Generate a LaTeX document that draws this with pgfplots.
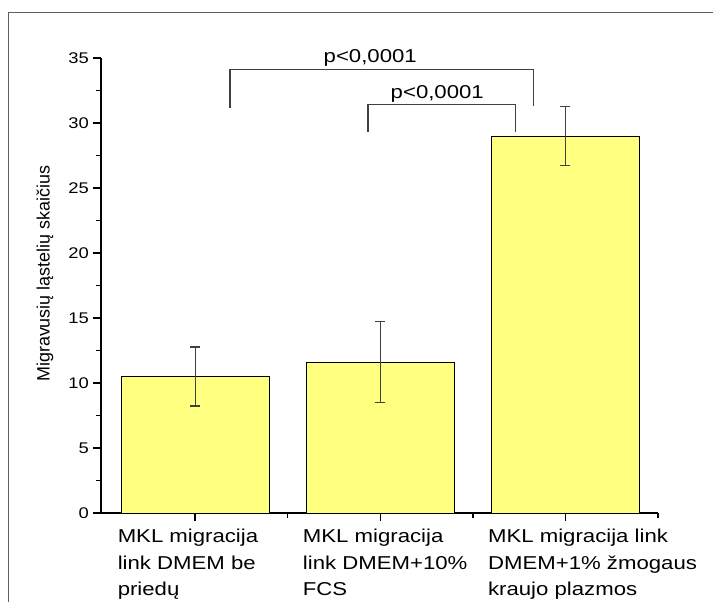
\documentclass[border=0pt]{standalone}
\usepackage{fontspec}
\setmainfont[FakeStretch=1.19]{Liberation Sans}
\newfontfamily\ylabfont{Liberation Sans}
\usepackage{pgfplots}
\pgfplotsset{compat=1.18}

\definecolor{barfill}{HTML}{FFFF80}
\definecolor{framegray}{HTML}{606060}

\begin{document}
\begin{tikzpicture}[x=1bp,y=1bp]
\useasboundingbox (0bp,0bp) rectangle (713bp,602bp);
% outer frame (top and left edges)
\draw[framegray, line width=1bp] (8bp,0bp) -- (8bp,589bp) -- (713bp,589bp);

\begin{axis}[
  at={(101bp,89bp)}, anchor=south west,
  width=557bp, height=455bp, scale only axis,
  xmin=-0.508, xmax=2.5,
  ymin=0, ymax=35,
  axis x line*=bottom, axis y line*=left,
  axis line style={line width=1.6bp, black, -},
  tick align=outside,
  major tick length=8bp, minor tick length=5bp,
  every tick/.style={line width=1.4bp, black},
  xtick={0,1,2},
  minor xtick={0.5,1.5,2.5},
  ytick={0,5,...,35},
  minor ytick={2.5,7.5,...,32.5},
  /pgf/number format/assume math mode=true,
  yticklabel style={font=\fontsize{15.5}{18}\selectfont, inner sep=0pt, xshift=-4bp},
  xticklabels={{MKL migracija\\link DMEM be\\priedų},
               {MKL migracija\\link DMEM+10\%\\FCS},
               {MKL migracija link\\DMEM+1\% žmogaus\\kraujo plazmos}},
  xticklabel style={font=\fontsize{18.7}{26.7}\selectfont, align=left,
    anchor=north west, inner sep=0pt, xshift=-77.5bp, yshift=-8bp},
  ylabel={\ylabfont\fontsize{18}{21}\selectfont Migravusių ląstelių skaičius},
  ylabel style={at={(axis description cs:-0.1005,0.526)}, anchor=center},
  clip=false,
]
\addplot[ybar, bar width=0.8, fill=barfill, draw=black, line width=0.8bp,
  error bars/.cd, y dir=both, y explicit,
  error bar style={line width=1.1bp, black!75},
  error mark options={rotate=90, mark size=5bp, line width=1.1bp, black!75}]
  coordinates {
    (0,10.5)  +- (0,2.27)
    (1,11.6)  +- (0,3.1)
    (2,29.0)  +- (0,2.3)
  };

% significance brackets
\draw[black!75, line width=1.2bp]
  (axis cs:0.189,31.18) -- (axis cs:0.189,34.1) -- (axis cs:1.827,34.1) -- (axis cs:1.827,31.33);
\draw[black!75, line width=1.2bp]
  (axis cs:0.934,29.33) -- (axis cs:0.934,31.44) -- (axis cs:1.730,31.44) -- (axis cs:1.730,29.31);
\node[anchor=base, inner sep=0pt, font=\fontsize{18.7}{22}\selectfont] at (axis cs:0.946,34.69) {p<0,0001};
\node[anchor=base, inner sep=0pt, font=\fontsize{18.7}{22}\selectfont] at (axis cs:1.308,31.92) {p<0,0001};
\end{axis}
\end{tikzpicture}
\end{document}
